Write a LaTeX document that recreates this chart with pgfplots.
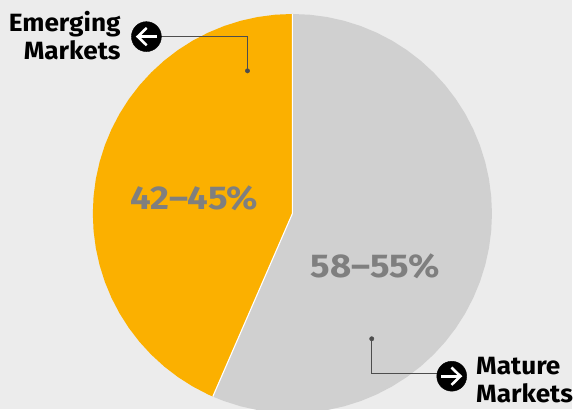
\documentclass[border=0pt]{standalone}
\usepackage{pgfplots}
\usepackage{fontspec}
\setmainfont{Fira Sans}
\newfontfamily\labelfont[FakeStretch=1.05]{Fira Sans}
\newfontfamily\sharefont[FakeStretch=1.11]{Fira Sans}
\pgfplotsset{compat=1.18}
\definecolor{pagebg}{HTML}{ECECEC}
\definecolor{emerging}{HTML}{FBB000}
\definecolor{mature}{HTML}{D0D0D0}
\definecolor{leader}{HTML}{4D4D4D}
\definecolor{share}{HTML}{7F7F7F}
\begin{document}
\begin{tikzpicture}
\begin{axis}[
  scale only axis, width=573pt, height=410pt,
  xmin=-293, xmax=280, ymin=-196, ymax=214,
  ticks=none, axis line style={draw=none},
  axis background/.style={fill=pagebg},
  clip mode=individual,
]
% Emerging markets wedge, angle and radius from the centre
\addplot[fill=emerging, draw=none, data cs=polar] coordinates {
 (0,0) (90,200) (95,200) (100,200) (105,200) (110,200) (115,200) (120,200) (125,200)
 (130,200) (135,200) (140,200) (145,200) (150,200) (155,200) (160,200) (165,200)
 (170,200) (175,200) (180,200) (185,200) (190,200) (195,200) (200,200) (205,200)
 (210,200) (215,200) (220,200) (225,200) (230,200) (235,200) (240,200) (245,200)
 (246.5,200)} -- cycle;
% Mature markets wedge
\addplot[fill=mature, draw=none, data cs=polar] coordinates {
 (0,0) (246.5,200) (250,200) (255,200) (260,200) (265,200) (270,200) (275,200) (280,200)
 (285,200) (290,200) (295,200) (300,200) (305,200) (310,200) (315,200) (320,200)
 (325,200) (330,200) (335,200) (340,200) (345,200) (350,200) (355,200) (360,200)
 (365,200) (370,200) (375,200) (380,200) (385,200) (390,200) (395,200) (400,200)
 (405,200) (410,200) (415,200) (420,200) (425,200) (430,200) (435,200) (440,200)
 (445,200) (450,200)} -- cycle;
% Separators between the wedges
\addplot[white, line width=1.1pt, data cs=polar] coordinates {(90,200) (0,0) (246.5,200)};
% Leaders
\addplot[leader, line width=0.9pt] coordinates {(-132,177.5) (-45,177.5) (-45,143)};
\addplot[leader, only marks, mark=*, mark size=2.2pt] coordinates {(-45,143)};
\addplot[leader, line width=0.9pt] coordinates {(79.5,-125.5) (79.5,-160) (147,-160)};
\addplot[leader, only marks, mark=*, mark size=2.2pt] coordinates {(79.5,-125.5)};
% Round arrow badges
\addplot[black, only marks, mark=*, mark size=15pt] coordinates {(-146.3,177.3) (159.7,-163)};
\addplot[white, line width=2.6pt] coordinates {(-136,177.3) (-154,177.3)};
\addplot[white, line width=2.6pt] coordinates {(-146,186) (-155,177.3) (-146,168.6)};
\addplot[white, line width=2.6pt] coordinates {(149.4,-163) (167.4,-163)};
\addplot[white, line width=2.6pt] coordinates {(159.4,-154.3) (168.4,-163) (159.4,-171.7)};
% Labels
\node[anchor=base east, inner sep=0pt, font=\labelfont\fontsize{25}{25}\selectfont\bfseries] at (axis cs:-172,182) {Emerging};
\node[anchor=base east, inner sep=0pt, font=\labelfont\fontsize{25}{25}\selectfont\bfseries] at (axis cs:-172,154) {Markets};
\node[anchor=base west, inner sep=0pt, font=\labelfont\fontsize{25}{25}\selectfont\bfseries] at (axis cs:184,-161) {Mature};
\node[anchor=base west, inner sep=0pt, font=\labelfont\fontsize{25}{25}\selectfont\bfseries] at (axis cs:184,-189) {Markets};
\node[anchor=base, inner sep=0pt, text=share, font=\sharefont\fontsize{33}{33}\selectfont\bfseries] at (axis cs:-98,4) {42–45\%};
\node[anchor=base, inner sep=0pt, text=share, font=\sharefont\fontsize{33}{33}\selectfont\bfseries] at (axis cs:83,-64) {58–55\%};
\end{axis}
\end{tikzpicture}
\end{document}
